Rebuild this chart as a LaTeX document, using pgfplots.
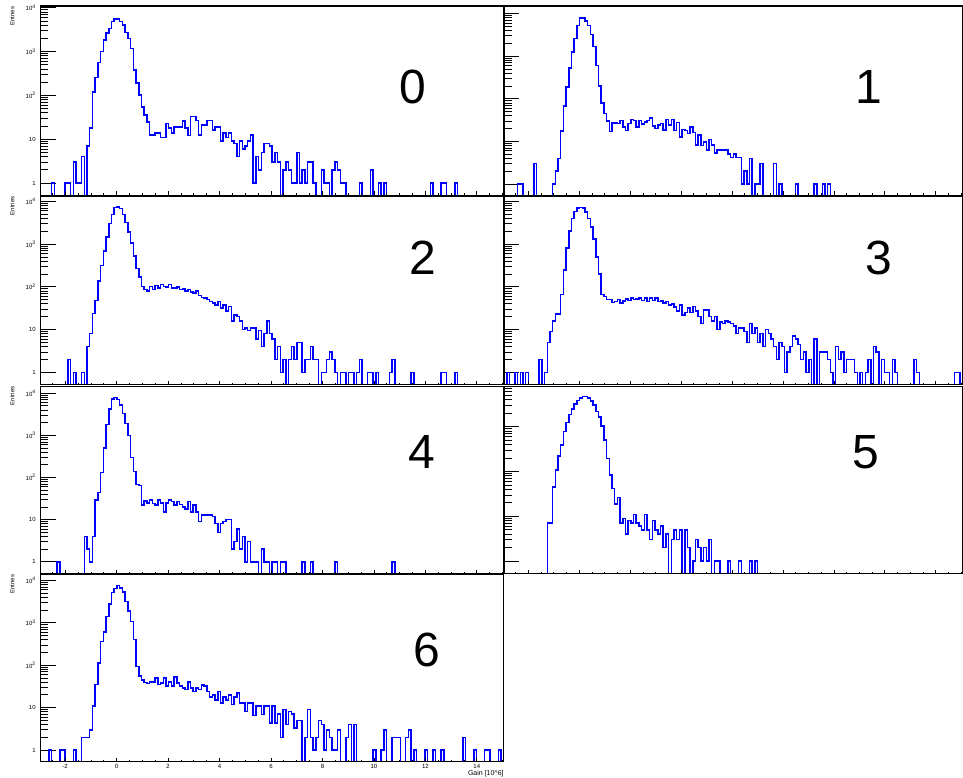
\documentclass[border=0pt]{standalone}
\usepackage{fontspec}
\setmainfont{Liberation Sans}
\usepackage{pgfplots}
\pgfplotsset{compat=1.18}
\usepackage{pgfplotstable}

% bin contents, one table per channel, bins of 0.10588 starting at -2.95
\pgfplotstableread[row sep=\\]{n\\
0\\0\\0\\0\\1\\0\\0\\0\\0\\1\\
1\\0\\3\\1\\1\\4\\0\\7\\18\\118\\
259\\560\\1000\\1830\\2630\\3400\\4800\\5500\\5500\\4800\\
4060\\2760\\2000\\1190\\380\\190\\102\\55\\36\\25\\
12.5\\12.5\\14\\14\\11\\11\\23\\18\\14\\19\\
19\\19\\26\\18\\12\\33\\33\\27\\12.5\\21\\
21\\27\\27\\16\\19\\19\\9\\14\\11\\14\\
9\\8\\4\\9\\6\\7\\9\\12.5\\1\\4\\
2\\5\\8\\8\\7\\3\\5\\3\\0\\2\\
3\\2\\1\\1\\5\\1\\2\\1\\3\\3\\
1\\0\\0\\2\\1\\1\\0\\2\\3\\2\\
1\\1\\0\\0\\0\\0\\0\\1\\0\\0\\
0\\2\\0\\0\\1\\0\\1\\0\\0\\0\\
0\\0\\0\\0\\0\\0\\0\\0\\0\\0\\
0\\0\\0\\1\\0\\0\\0\\1\\1\\0\\
0\\0\\1\\0\\0\\
}\chA

\pgfplotstableread[row sep=\\]{n\\
0\\0\\0\\0\\0\\1\\1\\0\\0\\0\\
0\\3\\0\\0\\0\\0\\0\\0\\1\\2\\
4\\17.5\\68\\188\\525\\1240\\2570\\5200\\7900\\7900\\
6600\\5200\\3200\\1700\\600\\200\\80\\45\\30\\17\\
27\\27\\26.5\\30.6\\22\\17.8\\26.5\\33\\30.6\\22\\
30.6\\25.4\\28.6\\30.6\\35\\22.8\\20\\24\\26.5\\18.3\\
33\\24\\33\\17.8\\27.5\\12.8\\19.2\\18\\15.4\\22\\
16\\8.2\\14\\8\\9.8\\6.2\\11.1\\8.2\\5.4\\6.2\\
6.2\\6.2\\6.2\\5\\4.2\\5\\4.2\\4.2\\1\\2\\
1\\4\\0\\1\\1\\3\\0\\0\\0\\0\\
3\\0\\1\\0\\0\\0\\0\\0\\1\\0\\
0\\0\\0\\0\\0\\1\\0\\0\\1\\0\\
1\\0\\0\\
}\chB

\pgfplotstableread[row sep=\\]{n\\
0\\0\\0\\0\\0\\0\\0\\0\\0\\0\\
2\\0\\1\\0\\0\\1\\0\\4\\8\\24\\
48\\135\\316\\683\\1450\\3000\\4950\\7100\\7400\\6800\\
4950\\3150\\1900\\1070\\520\\270\\170\\103\\87\\79\\
103\\87\\107\\93\\113\\103\\100\\113\\95\\93\\
100\\87\\90\\80\\87\\75\\72\\80\\62\\56\\
55\\50\\45\\42\\38\\45\\32\\38\\27\\35\\
16\\22\\20\\16\\10\\11\\9.5\\11\\11\\6\\
9.5\\4\\8\\16\\8\\6\\2\\4\\1\\2\\
0\\2\\4\\2\\5\\5\\1\\2\\2\\4\\
2\\2\\0\\1\\1\\2\\3\\2\\1\\0\\
1\\1\\0\\1\\1\\0\\1\\2\\0\\0\\
1\\1\\0\\1\\0\\0\\0\\0\\1\\2\\
0\\0\\0\\0\\0\\0\\1\\0\\0\\0\\
0\\0\\0\\0\\0\\0\\0\\1\\1\\0\\
0\\0\\1\\0\\0\\
}\chC

\pgfplotstableread[row sep=\\]{n\\
0\\1\\0\\0\\1\\0\\1\\0\\1\\0\\
0\\0\\0\\2\\0\\1\\5\\9\\16\\23\\
23\\66\\250\\800\\2000\\4000\\5800\\7000\\7200\\6900\\
5600\\4000\\2500\\1300\\500\\200\\66\\59\\50\\50\\
43\\45\\50\\42\\46\\52\\48\\55\\50\\52\\
55\\48\\55\\45\\55\\48\\55\\45\\47\\42\\
45\\38\\40\\34\\27\\38\\22\\25\\32\\25\\
35\\27\\20\\14\\29\\29\\20\\16\\20\\10\\
15\\14\\16\\15\\14\\12\\8\\11\\11\\9\\
5\\14\\8\\11\\5\\8\\4\\10\\8\\6\\
4\\2\\5\\4\\1\\3\\4\\7\\6\\4.5\\
2\\3\\1\\2\\0\\6\\0\\3\\3\\3\\
2\\1\\0\\4\\2\\3\\1\\2\\2\\2\\
1\\0\\1\\0\\1\\2\\0\\4\\3\\0\\
2\\1\\1\\0\\2\\1\\0\\0\\0\\0\\
0\\0\\2\\1\\0\\0\\0\\0\\0\\0\\
0\\0\\0\\0\\0\\0\\0\\1\\1\\0\\0\\
}\chD

\pgfplotstableread[row sep=\\]{n\\
0\\0\\0\\0\\0\\0\\1\\0\\0\\0\\
0\\0\\0\\0\\0\\0\\4\\2\\1\\4\\
29\\44\\130\\500\\1800\\4200\\7200\\7800\\7000\\5200\\
3300\\1900\\1000\\300\\140\\68\\65\\22\\28\\25\\
29\\24\\22\\29\\25\\15\\25\\29\\27\\22\\
27\\23\\20\\18\\27\\15\\22\\15\\9\\13\\
13\\13\\13\\12\\8\\5\\8\\9\\10\\10\\
2\\3\\6\\2\\4\\1\\3\\1\\1\\1\\
0\\2\\1\\1\\0\\1\\1\\0\\1\\1\\
0\\0\\0\\0\\0\\0\\1\\0\\0\\1\\
0\\0\\0\\0\\0\\0\\0\\0\\1\\0\\
0\\0\\0\\0\\0\\0\\0\\0\\0\\0\\
0\\0\\0\\0\\0\\0\\0\\0\\0\\1\\0\\
}\chE

\pgfplotstableread[row sep=\\]{n\\
0\\0\\0\\0\\0\\0\\0\\0\\0\\0\\
0\\0\\0\\0\\0\\0\\7\\7\\45\\108\\
222\\395\\780\\1240\\1850\\2480\\3250\\3870\\4350\\4700\\
4700\\4350\\3700\\3070\\2200\\1650\\1040\\500\\197\\83\\
42\\18.7\\26\\7\\9\\4\\8\\7\\11\\7\\
6\\5\\11\\5\\3\\8\\5\\4\\6\\2\\
4\\0\\3\\5\\3\\5\\0\\5\\2\\0\\
1\\3\\2\\1\\2\\1\\3\\0\\1\\1\\
0\\0\\0\\1\\0\\0\\0\\1\\0\\0\\
0\\1\\0\\1\\0\\
}\chF

\pgfplotstableread[row sep=\\]{n\\
0\\0\\0\\1\\0\\0\\0\\1\\1\\0\\
0\\0\\1\\0\\0\\2\\2\\2\\3\\11\\
35\\112\\364\\610\\1400\\2770\\5100\\6400\\7500\\6600\\
5300\\3200\\1870\\1070\\400\\94\\56\\45\\39\\37\\
40\\40\\50\\35\\38\\50\\32\\40\\32\\52\\
38\\32\\29\\27\\40\\29\\24\\29\\27\\34\\
32\\24\\18\\20\\15\\24\\13\\18\\15\\20\\
11.7\\18\\22\\13\\13\\8\\13\\13\\6.5\\11\\
11\\6.8\\11\\11\\4.3\\11\\4.3\\7\\2\\9\\
4\\8\\7\\3.3\\5\\5\\0\\2\\9\\2\\
1\\2\\5\\4\\1\\3\\2\\1\\1\\3\\
0\\0\\2\\4\\0\\4\\0\\0\\0\\0\\
0\\0\\1\\0\\0\\1\\3\\0\\0\\2\\
2\\2\\0\\0\\2\\3\\0\\1\\0\\0\\
0\\1\\0\\0\\1\\0\\0\\1\\0\\0\\
0\\0\\0\\0\\0\\2\\0\\0\\0\\1\\
0\\0\\0\\1\\1\\0\\0\\0\\1\\0\\
}\chG

\pgfplotsset{
  rhist/.style={const plot, color=blue, line width=1.5pt},
  % histogram frame with log y axis and long y ticks
  rootpad/.style={
    scale only axis, xmin=-2.95, xmax=15.05,
    axis line style={line width=1.1pt},
    tick align=inside, ytick pos=left,
    xtick=\empty,
    tick style={line width=0.7pt, black},
    major tick length=15pt, minor tick length=7.5pt,
    tick label style={font=\fontsize{6}{6}\selectfont},
    ytick={1,10,100,1000,10000},
    yticklabels={1,10,10\textsuperscript{2},10\textsuperscript{3},10\textsuperscript{4}},
    yticklabel style={xshift=-1.5pt},
  },
  % overlay carrying the short x ticks
  rootx/.style={
    scale only axis, xmin=-2.95, xmax=15.05, ymin=0, ymax=1,
    hide y axis,
    axis line style={line width=1.1pt},
    tick align=inside, xtick pos=left,
    xtick={-4,-2,...,16}, minor x tick num=3,
    tick style={line width=0.7pt, black},
    major tick length=4pt, minor tick length=2pt,
    tick label style={font=\fontsize{6}{6}\selectfont},
    xticklabels={},
  },
}

\begin{document}
\begin{tikzpicture}

% row 0
\begin{axis}[rootpad, ymode=log, width=463.3pt, at={(40.7pt,582.5pt)}, height=189.5pt, ymin=0.52, ymax=11000]
\addplot[rhist] table[x expr=-2.95+0.10588*\coordindex, y expr={max(\thisrow{n},0.1)}, y=n] {\chA};
\end{axis}
\begin{axis}[rootx, width=463.3pt, at={(40.7pt,582.5pt)}, height=189.5pt]
\end{axis}
\begin{axis}[rootpad, ymode=log, width=458.5pt, yticklabels={}, at={(504.3pt,582.5pt)}, height=189.5pt, ymin=0.54, ymax=15000]
\addplot[rhist] table[x expr=-2.95+0.10588*\coordindex, y expr={max(\thisrow{n},0.1)}, y=n] {\chB};
\end{axis}
\begin{axis}[rootx, width=458.5pt, at={(504.3pt,582.5pt)}, height=189.5pt]
\end{axis}

% row 1
\begin{axis}[rootpad, ymode=log, width=463.3pt, at={(40.7pt,393pt)}, height=188.5pt, ymin=0.51, ymax=13000]
\addplot[rhist] table[x expr=-2.95+0.10588*\coordindex, y expr={max(\thisrow{n},0.1)}, y=n] {\chC};
\end{axis}
\begin{axis}[rootx, width=463.3pt, at={(40.7pt,393pt)}, height=188.5pt]
\end{axis}
\begin{axis}[rootpad, ymode=log, width=458.5pt, yticklabels={}, at={(504.3pt,393pt)}, height=188.5pt, ymin=0.51, ymax=13000]
\addplot[rhist] table[x expr=-2.95+0.10588*\coordindex, y expr={max(\thisrow{n},0.1)}, y=n] {\chD};
\end{axis}
\begin{axis}[rootx, width=458.5pt, at={(504.3pt,393pt)}, height=188.5pt]
\end{axis}

% row 2
\begin{axis}[rootpad, ymode=log, width=463.3pt, at={(40.7pt,204pt)}, height=187.5pt, ymin=0.52, ymax=14500]
\addplot[rhist] table[x expr=-2.95+0.10588*\coordindex, y expr={max(\thisrow{n},0.1)}, y=n] {\chE};
\end{axis}
\begin{axis}[rootx, width=463.3pt, at={(40.7pt,204pt)}, height=187.5pt]
\end{axis}
\begin{axis}[rootpad, ymode=log, width=458.5pt, yticklabels={}, at={(504.3pt,204pt)}, height=187.5pt, ymin=0.52, ymax=7950]
\addplot[rhist] table[x expr=-2.95+0.10588*\coordindex, y expr={max(\thisrow{n},0.1)}, y=n] {\chF};
\end{axis}
\begin{axis}[rootx, width=458.5pt, at={(504.3pt,204pt)}, height=187.5pt]
\end{axis}

% row 3
\begin{axis}[rootpad, ymode=log, width=463.3pt, at={(40.7pt,16pt)}, height=187pt, ymin=0.53, ymax=13500]
\addplot[rhist] table[x expr=-2.95+0.10588*\coordindex, y expr={max(\thisrow{n},0.1)}, y=n] {\chG};
\end{axis}
\begin{axis}[rootx, width=463.3pt, at={(40.7pt,16pt)}, height=187pt,
  xticklabels={-4,-2,0,2,4,6,8,10,12,14,16}, xticklabel style={yshift=1pt}]
\end{axis}

% titles and channel numbers
\foreach \yy in {771.3,581.5,391.5,203} {
  \node[rotate=90, anchor=east, inner sep=0, font=\fontsize{6}{6}\selectfont] at (12.3pt,\yy pt) {Entries};
}
\node[anchor=base east, inner sep=0, font=\fontsize{7}{7}\selectfont] at (504pt,2pt) {Gain [10\textasciicircum 6]};

\begin{scope}[every node/.style={inner sep=0, font=\fontsize{48}{48}\selectfont}]
\node at (413pt,691pt) {0};
\node at (869pt,691pt) {1};
\node at (423pt,520pt) {2};
\node at (879pt,520pt) {3};
\node at (422pt,326pt) {4};
\node at (866pt,326pt) {5};
\node at (427pt,128pt) {6};
\end{scope}
\path[use as bounding box] (0,0) rectangle (963pt,778pt);
\end{tikzpicture}
\end{document}
